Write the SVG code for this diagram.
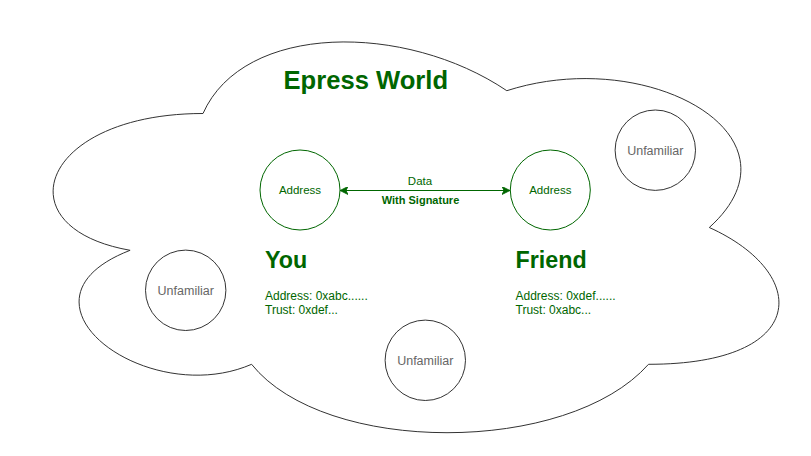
<svg xmlns="http://www.w3.org/2000/svg" width="811" height="456" viewBox="0 0 811 456">
<defs>
<style>
.cloud{fill:#ffffff;stroke:#333333;stroke-width:1}
.addr{fill:#ffffff;stroke:#006600;stroke-width:1}
.unf{fill:#ffffff;stroke:#333333;stroke-width:1}
.t{font-family:"Liberation Sans",Arial,sans-serif}
.g{fill:#006600}
.gray{fill:#666666}
.edge{stroke:#006600;stroke-width:1;fill:none}
</style>
<marker id="ah" viewBox="0 0 10 10" refX="10" refY="5" markerWidth="8" markerHeight="8" markerUnits="userSpaceOnUse" orient="auto-start-reverse">
<path d="M0,0 L10,5 L0,10 L2.5,5 Z" fill="#006600" stroke="#006600" stroke-width="1"/>
</marker>
</defs>
<rect width="811" height="456" fill="#ffffff"/>
<g id="cloud">
<path class="cloud" d="M203,113.5 C41,113.5 0.5,227.5 130.1,250.3 C0.5,300.5 146.3,409.9 251.6,364.3 C324.5,455.5 567.5,455.5 648.5,364.3 C810.5,364.3 810.5,273.1 709.3,227.5 C810.5,136.3 648.5,45.1 506.8,90.7 C405.5,22.3 243.5,22.3 203,113.5 Z"/>
<text class="t g" x="365.8" y="89" font-size="25.6" font-weight="bold" text-anchor="middle">Epress World</text>
</g>
<g id="connectors">
<line class="edge" x1="340" y1="190.5" x2="510" y2="190.5" marker-start="url(#ah)" marker-end="url(#ah)"/>
<text class="t g" x="420" y="185" font-size="11.5" text-anchor="middle">Data</text>
<text class="t g" x="420.5" y="204.3" font-size="11" font-weight="bold" text-anchor="middle">With Signature</text>
</g>
<g id="you-node">
<circle class="addr" cx="300" cy="190" r="40"/>
<text class="t g" x="300" y="194.3" font-size="11.5" text-anchor="middle">Address</text>
</g>
<g id="friend-node">
<circle class="addr" cx="550.3" cy="190" r="40"/>
<text class="t g" x="550.3" y="194.3" font-size="11.5" text-anchor="middle">Address</text>
</g>
<g id="you-label">
<text class="t g" x="265" y="268.3" font-size="23.3" font-weight="bold">You</text>
<text class="t g" x="265" y="300.3" font-size="12">Address: 0xabc......</text>
<text class="t g" x="265" y="314.3" font-size="12">Trust: 0xdef...</text>
</g>
<g id="friend-label">
<text class="t g" x="515.5" y="268.3" font-size="23.3" font-weight="bold">Friend</text>
<text class="t g" x="515.5" y="300.3" font-size="12">Address: 0xdef......</text>
<text class="t g" x="515.5" y="314.3" font-size="12">Trust: 0xabc...</text>
</g>
<g id="unfamiliar-1">
<circle class="unf" cx="655.3" cy="150.2" r="40.2"/>
<text class="t gray" x="655.3" y="154.7" font-size="12.5" text-anchor="middle">Unfamiliar</text>
</g>
<g id="unfamiliar-2">
<circle class="unf" cx="185.7" cy="290.3" r="40.2"/>
<text class="t gray" x="185.7" y="294.8" font-size="12.5" text-anchor="middle">Unfamiliar</text>
</g>
<g id="unfamiliar-3">
<circle class="unf" cx="425.3" cy="360.3" r="40.2"/>
<text class="t gray" x="425.3" y="364.8" font-size="12.5" text-anchor="middle">Unfamiliar</text>
</g>
</svg>
